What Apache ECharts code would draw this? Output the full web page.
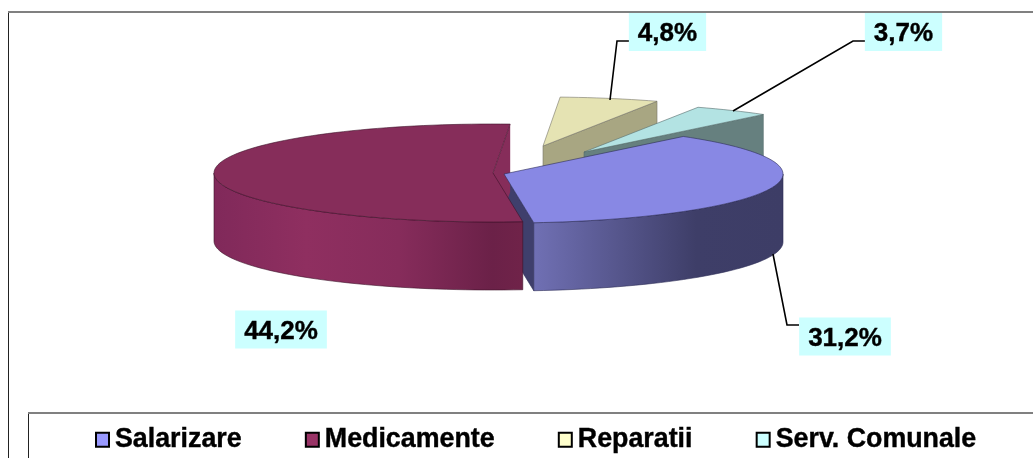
<!DOCTYPE html>
<html>
<head>
<meta charset="utf-8">
<style>
  html, body { margin: 0; padding: 0; background: #fff; }
  #chart { width: 1033px; height: 458px; }
</style>
<script src="https://cdn.jsdelivr.net/npm/echarts@6/dist/echarts.min.js"></script>
</head>
<body>
<div id="chart"></div>
<script>
const categories = ['Salarizare', 'Medicamente', 'Reparatii', 'Serv. Comunale']
const values = [31.2, 44.2, 4.8, 3.7]
const swatchColors = ['#9999ff', '#993366', '#ffffcc', '#ccffff']

// pie look, the reference has no 5th slice so angles come from the sum of the 4 values
const rx = 279
const ry = 49
const depth = 68
const startAngle = 40
const total = values.reduce((a, b) => a + b, 0)

// order: faces of Salarizare sit behind Medicamente, its top sits in front
const sliceStyle = [
  {
    apex: [504, 174], top: '#8888e4', stroke: '#2c2c55', face: '#3f3f6c', faceStroke: '#2c2c55',
    wall: [[0, '#7070b4'], [0.65, '#3e3e68'], [1, '#3d3d66']],
    box: [845, 336.5], leader: [[799, 325], [787, 325], [773, 254]], zFace: 12, zTop: 14
  },
  {
    apex: [493, 173], top: '#862d5a', stroke: '#3c1028', face: '#862d5a', faceStroke: null,
    wall: [[0, '#80295a'], [0.3, '#8f2f60'], [0.6, '#862c5b'], [0.9, '#6b2148'], [1, '#702349']],
    box: [281, 329.5], leader: null, zFace: 13, zTop: 13
  },
  {
    apex: [543, 146], top: '#e5e3b3', stroke: '#77766a', face: '#a8a682', faceStroke: '#77766a',
    box: [667.5, 32], leader: [[629, 41], [617, 41], [610, 100]], zFace: 10, zTop: 10
  },
  {
    apex: [584, 152], top: '#b3e3e3', stroke: '#566b6b', face: '#66807f', faceStroke: '#566b6b',
    box: [903.5, 32], leader: [[865, 41], [853, 41], [733, 111]], zFace: 11, zTop: 11
  }
]

function rim (apex, deg) {
  const r = deg * Math.PI / 180
  return [apex[0] + rx * Math.sin(r), apex[1] - ry * Math.cos(r)]
}

function arc (apex, from, to) {
  const pts = []
  const n = Math.max(2, Math.ceil(Math.abs(to - from) / 2))
  for (let i = 0; i <= n; i++) {
    pts.push(rim(apex, from + (to - from) * i / n))
  }
  return pts
}

function down (pts) {
  return pts.map(p => [p[0], p[1] + depth]).reverse()
}

function renderSlice (index) {
  return function (params, api) {
    const s = sliceStyle[index]
    let from = startAngle
    for (let i = 0; i < index; i++) from += values[i] / total * 360
    const to = from + api.value(0) / total * 360
    const children = []

    // cut side at the end angle
    const end = rim(s.apex, to)
    children.push({
      type: 'polygon',
      shape: {
        points: [s.apex, end, [end[0], end[1] + depth], [s.apex[0], s.apex[1] + depth]]
      },
      style: { fill: s.face, stroke: s.faceStroke, lineWidth: 0.6 },
      z2: s.zFace
    })

    // outside wall, only the front half of the ellipse shows
    const wallFrom = Math.max(from, 90)
    const wallTo = Math.min(to, 270)
    if (wallTo > wallFrom) {
      const edge = arc(s.apex, wallFrom, wallTo)
      const stops = s.wall.map(c => ({ offset: c[0], color: c[1] }))
      children.push({
        type: 'polygon',
        shape: { points: edge.concat(down(edge)) },
        style: {
          fill: new echarts.graphic.LinearGradient(0, 0, 1, 0, stops),
          stroke: s.stroke,
          lineWidth: 0.6
        },
        z2: s.zTop
      })
    }

    // top
    children.push({
      type: 'polygon',
      shape: { points: [s.apex].concat(arc(s.apex, from, to)) },
      style: { fill: s.top, stroke: s.stroke, lineWidth: 0.6 },
      z2: s.zTop
    })

    if (s.leader) {
      children.push({
        type: 'polyline',
        shape: { points: s.leader },
        style: { fill: null, stroke: '#000', lineWidth: 1.6 },
        z2: 20
      })
    }

    children.push({
      type: 'text',
      style: {
        x: s.box[0],
        y: s.box[1] - 19,
        text: api.value(0).toFixed(1).replace('.', ',') + '%',
        font: 'bold 26px "Liberation Sans", Arial, sans-serif',
        fill: '#000',
        stroke: '#000',
        lineWidth: 0.4,
        align: 'center',
        verticalAlign: 'top',
        lineHeight: 26,
        backgroundColor: '#ccffff',
        padding: [8, 9, 4, 9]
      },
      z2: 21
    })

    return { type: 'group', children: children }
  }
}

const chart = echarts.init(document.getElementById('chart'))
chart.setOption({
  animation: false,
  backgroundColor: '#fff',
  legend: {
    data: categories.map((name, i) => ({
      name: name,
      itemStyle: { color: swatchColors[i], borderColor: '#000', borderWidth: 2 }
    })),
    left: 95,
    top: 426,
    padding: 0,
    itemGap: 63,
    itemWidth: 13,
    itemHeight: 14,
    icon: 'rect',
    selectedMode: false,
    textStyle: {
      fontFamily: '"Liberation Sans", Arial, sans-serif',
      fontWeight: 'bold',
      fontSize: 26.8,
      color: '#000',
      textBorderColor: '#000',
      textBorderWidth: 0.4,
      padding: [0, 0, 0, 1]
    }
  },
  graphic: [
    {
      type: 'polyline',
      shape: { points: [[8.5, 470], [8.5, 12]] },
      style: { fill: null, stroke: '#222', lineWidth: 1 },
      z: 0
    },
    {
      type: 'line',
      shape: { x1: 8, y1: 12, x2: 1033, y2: 12 },
      style: { stroke: '#808080', lineWidth: 2 },
      z: 0
    },
    {
      type: 'polyline',
      shape: { points: [[28.5, 470], [28.5, 413]] },
      style: { fill: null, stroke: '#222', lineWidth: 1 },
      z: 1
    },
    {
      type: 'line',
      shape: { x1: 28, y1: 413, x2: 1033, y2: 413 },
      style: { stroke: '#808080', lineWidth: 2 },
      z: 1
    }
  ],
  series: categories.map((name, i) => ({
    name: name,
    type: 'custom',
    coordinateSystem: 'none',
    renderItem: renderSlice(i),
    data: [[values[i]]],
    itemStyle: { color: swatchColors[i] },
    z: 5,
    silent: true
  }))
})
</script>
</body>
</html>
